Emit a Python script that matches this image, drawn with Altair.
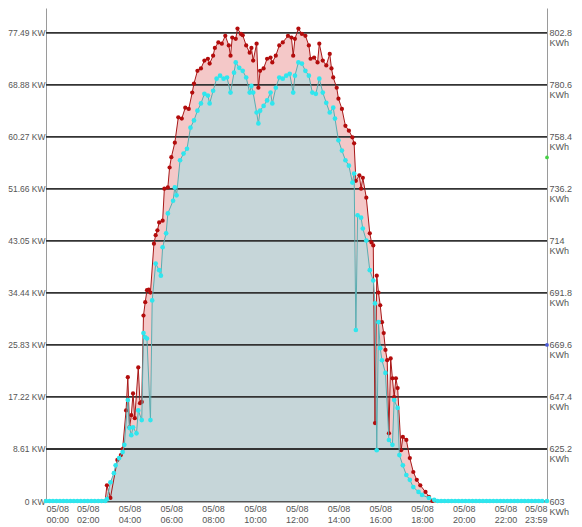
import altair as alt
import pandas as pd

DATE_LABEL = "05/08"

RED_TIMES = ["02:50","02:55","03:05","03:25","03:35","03:40","03:50","03:55","04:00","04:05","04:10","04:15","04:25","04:30","04:35","04:40","04:45","04:50","04:55","05:00","05:10","05:15","05:20","05:25","05:35","05:40","05:50","05:55","06:00","06:10","06:20","06:30","06:40","06:50","07:00","07:05","07:15","07:25","07:35","07:45","07:50","08:00","08:05","08:15","08:25","08:35","08:45","08:50","08:55","09:05","09:10","09:20","09:25","09:35","09:45","09:50","09:55","10:05","10:10","10:15","10:25","10:35","10:45","10:50","11:00","11:10","11:20","11:35","11:45","11:50","11:55","12:05","12:15","12:25","12:35","12:40","12:50","13:00","13:05","13:15","13:25","13:35","13:40","13:45","13:55","14:00","14:10","14:20","14:30","14:40","14:45","14:50","15:00","15:05","15:10","15:20","15:30","15:35","15:40","15:45","15:50","15:55","16:00","16:05","16:10","16:15","16:20","16:25","16:30","16:35","16:40","16:45","16:50","17:00","17:05","17:15","17:25","17:35","17:45","17:55","18:10","18:20","18:30"]
RED_KW = [0.0,2.6,0.5,6.8,7.6,8.6,15.0,20.5,12.2,14.2,17.8,13.7,22.1,16.2,16.4,30.7,32.9,34.9,35.0,34.5,42.6,44.0,44.8,46.1,46.4,51.7,51.9,55.2,56.9,59.3,63.5,63.3,65.1,64.9,67.6,69.1,71.2,71.6,72.9,73.2,72.4,73.7,75.0,75.9,75.7,77.0,75.4,73.7,76.7,76.5,78.2,77.3,77.1,75.4,74.2,75.0,72.9,75.7,68.4,71.2,71.6,73.2,73.4,72.6,73.7,75.4,75.9,77.0,76.7,73.7,76.5,78.2,77.3,77.0,75.4,73.2,73.4,72.6,75.7,72.9,72.1,74.0,71.6,70.1,68.4,66.6,64.9,62.1,61.3,60.2,59.2,53.0,53.9,51.7,53.5,50.2,44.3,42.8,42.3,12.9,37.3,34.5,32.4,29.6,27.8,25.0,23.3,11.2,23.6,20.3,17.2,20.3,18.7,8.4,10.6,10.1,7.1,4.8,3.5,2.6,1.5,0.7,0.0]

CYAN_TIMES = ["02:50","02:55","03:05","03:15","03:20","03:30","03:40","03:45","03:55","04:00","04:05","04:10","04:20","04:25","04:35","04:40","04:45","04:50","05:00","05:05","05:15","05:25","05:30","05:35","05:45","05:50","06:05","06:10","06:15","06:25","06:35","06:45","06:55","07:05","07:15","07:25","07:35","07:45","07:50","08:00","08:10","08:20","08:30","08:40","08:50","09:00","09:05","09:15","09:25","09:35","09:45","09:50","09:55","10:05","10:10","10:15","10:25","10:35","10:45","10:50","11:00","11:10","11:20","11:30","11:40","11:50","11:55","12:05","12:15","12:25","12:35","12:45","12:55","13:05","13:15","13:25","13:35","13:45","13:50","14:00","14:10","14:20","14:30","14:40","14:45","14:50","14:55","15:05","15:10","15:20","15:30","15:40","15:45","15:50","15:55","16:00","16:05","16:15","16:25","16:35","16:40","16:50","16:55","17:05","17:15","17:25","17:35","17:50","18:00","18:20","18:35"]
CYAN_KW = [0.0,0.3,3.1,4.6,5.9,7.1,8.1,9.3,16.7,12.1,10.9,12.2,11.2,15.0,13.4,27.8,27.1,26.9,13.4,33.2,39.3,38.2,37.3,42.0,44.3,47.6,49.7,51.9,50.6,56.4,57.5,58.3,61.8,63.0,64.6,65.8,67.4,67.1,65.8,67.9,69.9,70.4,69.9,70.1,67.6,70.9,72.6,71.7,71.2,70.1,67.6,68.7,67.6,64.3,62.5,64.6,65.4,66.3,67.6,65.8,68.4,70.1,69.9,70.4,70.7,67.6,70.4,72.6,72.4,71.2,70.4,67.6,67.4,69.9,67.6,65.9,64.3,65.1,63.3,59.7,58.0,56.4,55.5,52.7,54.2,28.3,47.3,46.9,45.1,43.1,38.2,36.5,32.7,8.4,29.6,25.3,23.3,21.2,10.1,9.3,16.7,15.4,7.6,5.9,4.3,3.5,2.3,1.5,1.0,0.5,0.2]

# night hours: output is flat zero
NIGHT_TIMES = (["00:00","00:10","00:20","00:30","00:40","00:50","01:00","01:10","01:20","01:30","01:40","01:50","02:00","02:10","02:20","02:30","02:40"]
               + ["18:45","18:55","19:05","19:15","19:25","19:35","19:45","19:55","20:05","20:15","20:25","20:35","20:45","20:55","21:05","21:15","21:25","21:35","21:45","21:55","22:05","22:15","22:25","22:35","22:45","22:55","23:05","23:15","23:25","23:35","23:45","23:59"])

KW_TICKS = [0, 8.61, 17.22, 25.83, 34.44, 43.05, 51.66, 60.27, 68.88, 77.49]
KWH_TICKS = [603, 625.2, 647.4, 669.6, 691.8, 714, 736.2, 758.4, 780.6, 802.8]
KW_MAX = 81.6
KWH_MAX = 813.4
X_TICK_TIMES = ["00:00","02:00","04:00","06:00","08:00","10:00","12:00","14:00","16:00","18:00","20:00","22:00","23:59"]
MARKER_KWH = [749.6, 669.6]
MARKER_COLORS = ["#46d246", "#4b5bd6"]


def to_min(t):
    h, m = t.split(":")
    return int(h) * 60 + int(m)


red_df = pd.DataFrame({"m": [to_min(t) for t in RED_TIMES], "kw": RED_KW})
cyan_df = pd.DataFrame({"m": [to_min(t) for t in CYAN_TIMES + NIGHT_TIMES],
                        "kw": CYAN_KW + [0.0] * len(NIGHT_TIMES)}).sort_values("m")
grid_df = pd.DataFrame({"kw": KW_TICKS[1:]})
marker_df = pd.DataFrame({"m": [1439, 1439], "kwh": MARKER_KWH, "c": MARKER_COLORS})

FONT = "Liberation Sans"
LABEL_COLOR = "#555555"

x_scale = alt.Scale(domain=[0, 1439], nice=False, zero=False)
x_enc = alt.X(
    "m:Q", scale=x_scale, title=None,
    axis=alt.Axis(
        values=[to_min(t) for t in X_TICK_TIMES],
        labelExpr=f"['{DATE_LABEL}', format(floor(datum.value/60), '02d') + ':' + format(datum.value % 60, '02d')]",
        labelFlush=True, ticks=False, grid=False,
        domainColor="#555555", domainWidth=2,
        labelFont=FONT, labelFontSize=9, labelColor=LABEL_COLOR,
        labelPadding=3, labelLineHeight=11, labelBaseline="top",
    ),
)
y_enc = alt.Y(
    "kw:Q", scale=alt.Scale(domain=[0, KW_MAX], nice=False), title=None,
    axis=alt.Axis(
        values=KW_TICKS,
        labelExpr="datum.value == 0 ? '0 KW' : format(datum.value, '.2f') + ' KW'",
        ticks=False, grid=False, domainColor="#9a9a9a", domainWidth=1,
        labelFont=FONT, labelFontSize=8.5, labelColor=LABEL_COLOR, labelPadding=1,
    ),
)

red_area = alt.Chart(red_df).mark_area(color="#f4c8c8", opacity=1).encode(x=x_enc, y=y_enc)
cyan_area = alt.Chart(cyan_df).mark_area(color="#c6d6d9", opacity=1).encode(x=x_enc, y=y_enc)
grid = alt.Chart(grid_df).mark_rule(color="#333333", strokeWidth=1.8).encode(y=y_enc)
red_line = alt.Chart(red_df).mark_line(color="#a81818", strokeWidth=1).encode(x=x_enc, y=y_enc)
red_pts = alt.Chart(red_df).mark_circle(color="#b30c0c", size=18, opacity=1).encode(x=x_enc, y=y_enc)
cyan_line = alt.Chart(cyan_df).mark_line(color="#5aaeb2", strokeWidth=1).encode(x=x_enc, y=y_enc)
cyan_pts = alt.Chart(cyan_df).mark_circle(color="#2fe6ee", size=22, opacity=1).encode(x=x_enc, y=y_enc)

left = alt.layer(red_area, cyan_area, grid, red_line, red_pts, cyan_line, cyan_pts)

right = alt.Chart(marker_df).mark_circle(size=14, opacity=1).encode(
    x=alt.X("m:Q", scale=x_scale, title=None),
    y=alt.Y(
        "kwh:Q", scale=alt.Scale(domain=[603, KWH_MAX], nice=False, zero=False), title=None,
        axis=alt.Axis(
            orient="right", values=KWH_TICKS, format=".1~f",
            labelExpr="[datum.label, 'KWh']",
            ticks=False, grid=False, domainColor="#9a9a9a", domainWidth=1,
            labelFont=FONT, labelFontSize=9, labelColor=LABEL_COLOR, labelPadding=2,
            labelLineHeight=10, labelAlign="left", labelBaseline="middle",
        ),
    ),
    color=alt.Color("c:N", scale=None),
)

chart = alt.layer(left, right).resolve_scale(y="independent").properties(
    width=501, height=493,
    autosize=alt.AutoSizeParams(type="none"),
    padding={"left": 38, "top": 0, "right": 27, "bottom": 26},
    background="white",
).configure_view(stroke=None)

chart.save("out.html", embed_options={"renderer": "svg", "actions": False})
